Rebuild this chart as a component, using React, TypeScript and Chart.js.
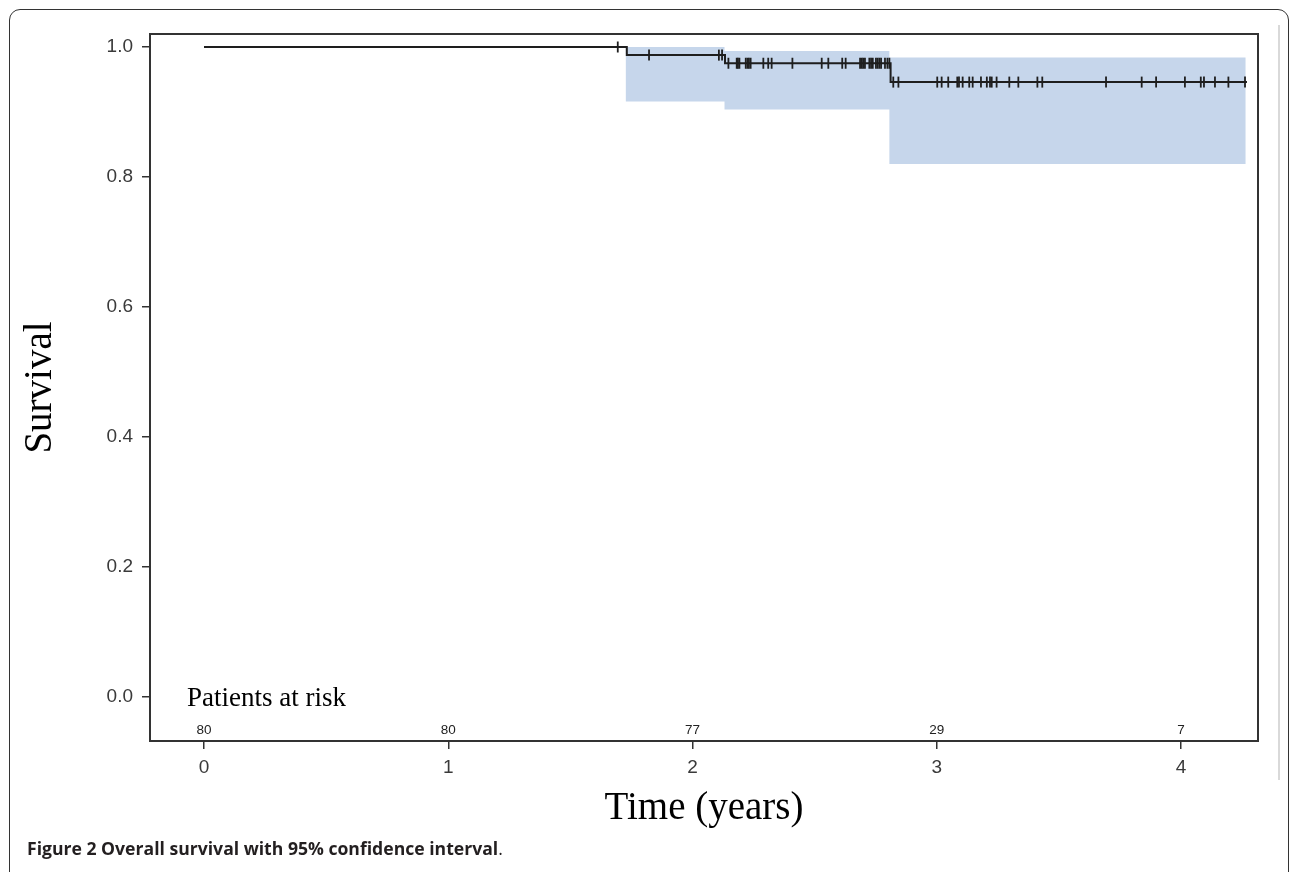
import React, { useEffect, useRef } from 'react';
import { Chart, registerables } from 'chart.js';

Chart.register(...registerables);

// Kaplan-Meier estimate (step changes)
const survTimes = [0, 1.731, 2.133, 2.811, 4.27];
const survValues = [1.0, 0.9875, 0.975, 0.946, 0.946];

// 95% confidence band
const ciTimes = [1.726, 2.131, 2.806, 4.265];
const ciUpper = [1.0, 0.994, 0.984, 0.984];
const ciLower = [0.916, 0.904, 0.82, 0.82];

// censored observations (years)
const censorTimes = [
  1.694, 1.822, 2.108, 2.121,
  2.147, 2.181, 2.186, 2.192, 2.218, 2.225, 2.231, 2.238, 2.29, 2.31, 2.324,
  2.409, 2.529, 2.556, 2.613, 2.627, 2.686, 2.693, 2.699, 2.706, 2.724, 2.731,
  2.738, 2.751, 2.758, 2.765, 2.772, 2.788, 2.798, 2.806,
  2.822, 2.843, 3.002, 3.02, 3.047, 3.084, 3.091, 3.106, 3.133, 3.147, 3.181,
  3.205, 3.218, 3.225, 3.245, 3.297, 3.334, 3.412, 3.432, 3.693, 3.839, 3.898,
  4.016, 4.081, 4.094, 4.139, 4.194, 4.262,
];

const xTicks = [0, 1, 2, 3, 4];
const yTicks = [0, 0.2, 0.4, 0.6, 0.8, 1.0];
const atRiskTimes = [0, 1, 2, 3, 4];
const atRiskCounts = [80, 80, 77, 29, 7];

function survivalAt(t: number): number {
  let v = survValues[0];
  for (let i = 0; i < survTimes.length; i++) {
    if (survTimes[i] <= t) v = survValues[i];
  }
  return v;
}

const SANS = "'Liberation Sans', Arial, sans-serif";
const SERIF = "'Liberation Serif', 'Times New Roman', serif";

const framePlugin = {
  id: 'frameAndRisk',
  afterDraw(chart: any) {
    const { ctx, chartArea, scales } = chart;
    ctx.save();
    ctx.strokeStyle = '#333';
    ctx.lineWidth = 2;
    ctx.strokeRect(chartArea.left, chartArea.top, chartArea.right - chartArea.left, chartArea.bottom - chartArea.top);
    // at-risk counts
    ctx.fillStyle = '#222';
    ctx.font = `13.5px ${SANS}`;
    ctx.textAlign = 'center';
    ctx.textBaseline = 'middle';
    atRiskTimes.forEach((t, i) => {
      ctx.fillText(String(atRiskCounts[i]), scales.x.getPixelForValue(t), chartArea.bottom - 11);
    });
    ctx.font = `27px ${SERIF}`;
    ctx.textAlign = 'left';
    ctx.textBaseline = 'alphabetic';
    ctx.fillStyle = '#000';
    ctx.fillText('Patients at risk', chartArea.left + 37, chartArea.bottom - 35);
    ctx.restore();
  },
};

export default function App() {
  const ref = useRef<HTMLCanvasElement | null>(null);

  useEffect(() => {
    if (!ref.current) return;
    const chart = new Chart(ref.current, {
      type: 'line',
      data: {
        datasets: [
          {
            type: 'scatter',
            label: 'censored',
            data: censorTimes.map((t) => ({ x: t, y: survivalAt(t) })),
            pointStyle: 'line',
            rotation: 90,
            pointRadius: 5.5,
            borderWidth: 1.8,
            borderColor: '#1e1e1e',
            backgroundColor: '#1e1e1e',
            showLine: false,
          } as any,
          {
            label: 'survival',
            data: survTimes.map((t, i) => ({ x: t, y: survValues[i] })),
            stepped: 'before',
            borderWidth: 2,
            borderColor: '#1e1e1e',
            pointRadius: 0,
            fill: false,
          },
          {
            label: 'upper',
            data: ciTimes.map((t, i) => ({ x: t, y: ciUpper[i] })),
            stepped: 'before',
            borderWidth: 0,
            pointRadius: 0,
            fill: false,
            borderColor: 'rgba(0,0,0,0)',
          },
          {
            label: 'lower',
            data: ciTimes.map((t, i) => ({ x: t, y: ciLower[i] })),
            stepped: 'before',
            borderWidth: 0,
            pointRadius: 0,
            fill: '-1',
            backgroundColor: 'rgb(198,214,235)',
            borderColor: 'rgba(0,0,0,0)',
          },
        ],
      },
      options: {
        animation: false,
        responsive: false,
        events: [],
        layout: { padding: { left: 0, right: 32, top: 34, bottom: 0 } },
        plugins: { legend: { display: false }, tooltip: { enabled: false } },
        scales: {
          x: {
            type: 'linear',
            min: -0.2211,
            max: 4.3152,
            afterBuildTicks: (s: any) => {
              s.ticks = xTicks.map((v) => ({ value: v }));
            },
            afterFit: (s: any) => {
              s.height = 131;
            },
            grid: { drawOnChartArea: false, drawTicks: true, tickLength: 8, color: '#333', lineWidth: 1.5 },
            border: { display: true, color: '#333', width: 2 },
            ticks: {
              padding: 7,
              color: '#3a3a3a',
              font: { family: SANS, size: 19 },
              callback: (v: any) => String(v),
            },
            title: {
              display: true,
              text: 'Time (years)',
              color: '#000',
              font: { family: SERIF, size: 39 },
              padding: { top: 0, bottom: 40 },
            },
          },
          y: {
            type: 'linear',
            min: -0.0677,
            max: 1.02,
            afterBuildTicks: (s: any) => {
              s.ticks = yTicks.map((v) => ({ value: v }));
            },
            afterFit: (s: any) => {
              s.width = 150;
            },
            grid: { drawOnChartArea: false, drawTicks: true, tickLength: 8, color: '#333', lineWidth: 1.5 },
            border: { display: true, color: '#333', width: 2 },
            ticks: {
              padding: 9,
              color: '#3a3a3a',
              font: { family: SANS, size: 19 },
              callback: (v: any) => Number(v).toFixed(1),
            },
            title: {
              display: true,
              text: 'Survival',
              color: '#000',
              font: { family: SERIF, size: 39 },
              padding: { top: 17, bottom: 0 },
            },
          },
        },
      },
      plugins: [framePlugin],
    } as any);
    return () => chart.destroy();
  }, []);

  return (
    <div style={{ position: 'absolute', left: 0, top: 0, width: 1290, height: 872, overflow: 'hidden', background: '#fff' }}>
      <div
        style={{
          position: 'absolute',
          left: 9,
          top: 9,
          width: 1280,
          height: 920,
          border: '1.5px solid #333',
          borderRadius: 11,
          boxSizing: 'border-box',
        }}
      />
      <div style={{ position: 'absolute', left: 1278, top: 25, width: 1.5, height: 755, background: '#d9d9d9' }} />
      <canvas ref={ref} width={1290} height={872} style={{ position: 'absolute', left: 0, top: 0, width: 1290, height: 872 }} />
      <div
        style={{
          position: 'absolute',
          left: 27,
          top: 836,
          fontFamily: "'Open Sans', sans-serif",
          fontWeight: 700,
          fontSize: 17.6,
          color: '#231f20',
          whiteSpace: 'nowrap',
          lineHeight: '24px',
        }}
      >
        Figure 2 Overall survival with 95% confidence interval<span style={{ fontWeight: 400 }}>.</span>
      </div>
    </div>
  );
}
